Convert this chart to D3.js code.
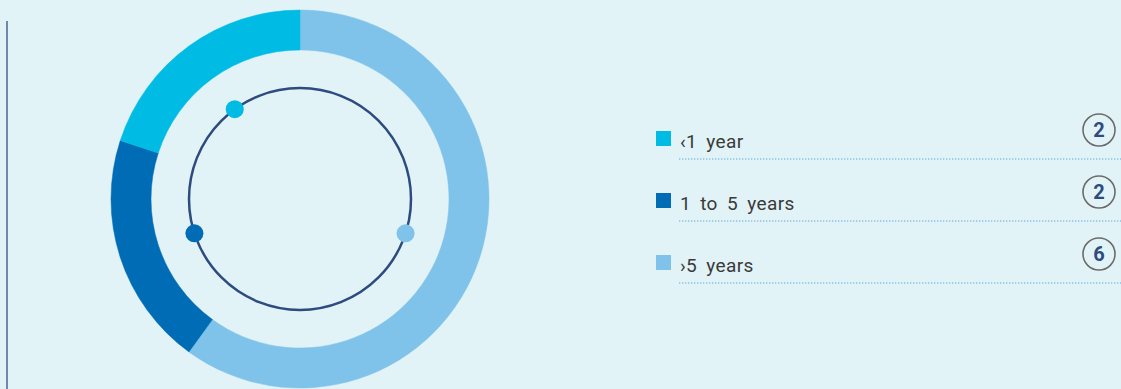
<!DOCTYPE html>
<html><head><meta charset="utf-8">
<script src="https://cdn.jsdelivr.net/npm/d3@7"></script>
<style>
html,body{margin:0;padding:0;background:#e1f3f6;}
svg{display:block;}
</style></head>
<body>
<svg id="chart" width="1121" height="389"></svg>
<script>
const categories = ["\u20391 year", "1 to 5 years", "\u203A5 years"];
const values = [2, 2, 6];
const colors = ["#00bce4", "#006cb5", "#7fc3ea"];
// donut drawn starting at top clockwise in this order
const donutOrder = [2, 1, 0];

const svg = d3.select("#chart");
const W = 1121, H = 389;
svg.append("rect").attr("width", W).attr("height", H).attr("fill", "#e1f3f6");

// left rule
svg.append("line").attr("x1", 7).attr("x2", 7).attr("y1", 21).attr("y2", H)
  .attr("stroke", "#4a6591").attr("stroke-width", 1.5);

const cx = 300, cy = 199, rOuter = 189, rInner = 149, rLine = 111;
const g = svg.append("g").attr("transform", `translate(${cx},${cy})`);

const pie = d3.pie().sort(null).value(i => values[i]);
const arcs = pie(donutOrder);
const arc = d3.arc().innerRadius(rInner).outerRadius(rOuter);

g.selectAll("path.seg").data(arcs).join("path")
  .attr("class", "seg")
  .attr("d", arc)
  .attr("fill", d => colors[d.data])
  .attr("stroke", d => colors[d.data]).attr("stroke-width", 0.5);

g.append("circle").attr("r", rLine).attr("fill", "none")
  .attr("stroke", "#2d4b7e").attr("stroke-width", 2.5);

g.selectAll("circle.dot").data(arcs).join("circle")
  .attr("class", "dot")
  .attr("cx", d => rLine * Math.sin((d.startAngle + d.endAngle) / 2))
  .attr("cy", d => -rLine * Math.cos((d.startAngle + d.endAngle) / 2))
  .attr("r", 9)
  .attr("fill", d => colors[d.data]);

// legend
const y = d3.scalePoint().domain(categories).range([131, 255]);
const leg = svg.append("g");
const rows = leg.selectAll("g.row").data(categories).join("g")
  .attr("class", "row").attr("transform", d => `translate(0,${y(d)})`);

rows.append("rect").attr("x", 656).attr("y", 0).attr("width", 15).attr("height", 15)
  .attr("fill", (d, i) => colors[i]);

rows.append("text").attr("x", 680).attr("y", 17)
  .attr("font-family", "Roboto, 'DejaVu Sans', sans-serif")
  .attr("font-size", 19).attr("fill", "#3a3a3a")
  .attr("letter-spacing", 0.4).attr("word-spacing", 4)
  .text(d => d);

rows.append("line").attr("x1", 679).attr("x2", W).attr("y1", 28).attr("y2", 28)
  .attr("stroke", "#5aa9dd").attr("stroke-width", 1.2).attr("stroke-dasharray", "1.3,1.7");

rows.append("circle").attr("cx", 1099).attr("cy", -1).attr("r", 16)
  .attr("fill", "none").attr("stroke", "#6b6b6b").attr("stroke-width", 1.6);

rows.append("text").attr("x", 1099).attr("y", 6).attr("text-anchor", "middle")
  .attr("font-family", "Roboto, 'DejaVu Sans', sans-serif")
  .attr("font-weight", "bold").attr("font-size", 20).attr("fill", "#2d4b7e")
  .text((d, i) => values[i]);
</script>
</body></html>
